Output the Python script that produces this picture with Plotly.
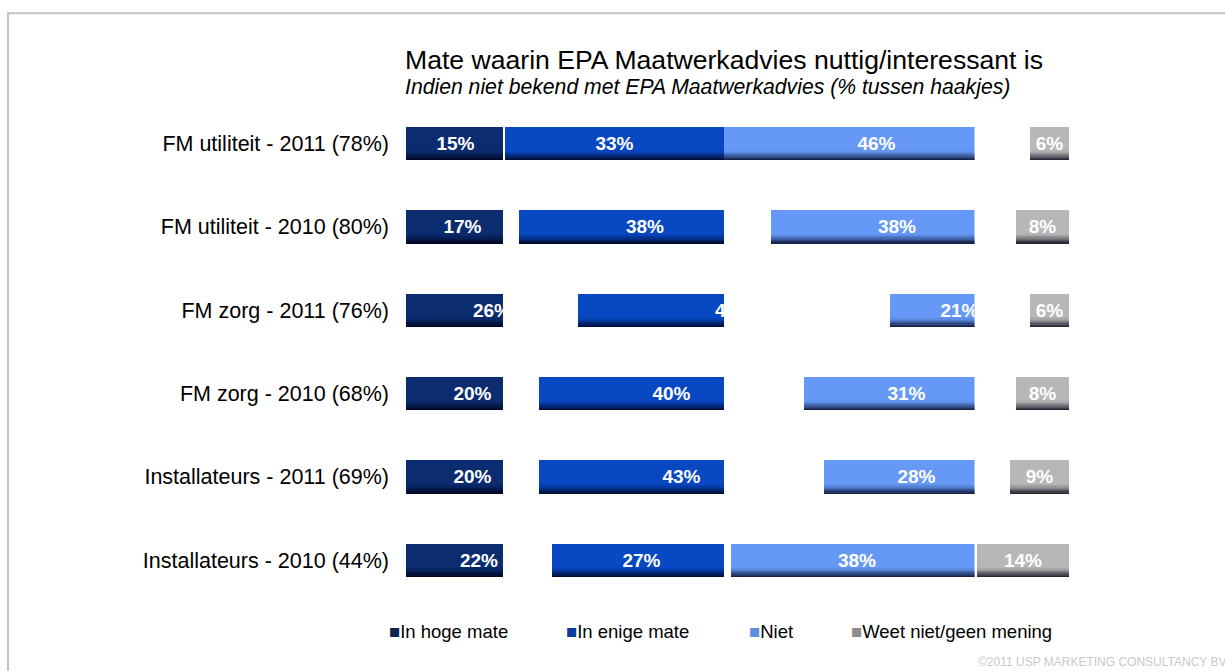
import plotly.graph_objects as go

# ---- data -------------------------------------------------------------
categories = [
    "FM utiliteit - 2011 (78%)",
    "FM utiliteit - 2010 (80%)",
    "FM zorg - 2011 (76%)",
    "FM zorg - 2010 (68%)",
    "Installateurs - 2011 (69%)",
    "Installateurs - 2010 (44%)",
]
in_hoge_mate = [15, 17, 26, 20, 20, 22]
in_enige_mate = [33, 38, 47, 40, 43, 27]
niet = [46, 38, 21, 31, 28, 38]
weet_niet = [6, 8, 6, 8, 9, 14]

series_names = ["In hoge mate", "In enige mate", "Niet", "Weet niet/geen mening"]
series_colors = ["#0b2c6e", "#0848c2", "#6699f7", "#b7b7b7"]
legend_colors = ["#0b2450", "#0a3c9c", "#5c8ee6", "#8c8c8c"]

title_text = "Mate waarin EPA Maatwerkadvies nuttig/interessant is"
subtitle_text = "Indien niet bekend met EPA Maatwerkadvies (% tussen haakjes)"
credit_text = "©2011 USP MARKETING CONSULTANCY BV"

# ---- stacking: first three from the left, the last one from the right end
base_hoge = [0] * len(categories)
base_enige = list(in_hoge_mate)
base_niet = [a + b for a, b in zip(in_hoge_mate, in_enige_mate)]
base_weet = [100 - v for v in weet_niet]

series = [
    (in_hoge_mate, base_hoge),
    (in_enige_mate, base_enige),
    (niet, base_niet),
    (weet_niet, base_weet),
]

# ---- geometry ---------------------------------------------------------
W, H = 1225, 671
FONT = "Liberation Sans, Arial, sans-serif"
X0_PX, X100_PX = 406, 1069           # 0 % and 100 % of the stacked scale
PANEL_EDGES_PX = [406, 503, 724, 974.5, 1069]   # one column window per series
PLOT_TOP_PX, PLOT_BOTTOM_PX = 101.8, 602


def px_to_pct(p):
    return (p - X0_PX) / (X100_PX - X0_PX) * 100


axis_ids = ["x", "x2", "x3", "x4"]
BAR_W = 0.4

fig = go.Figure()

# main bars
for i, ((vals, bases), name, col) in enumerate(zip(series, series_names, series_colors)):
    fig.add_trace(go.Bar(
        y=categories, x=vals, base=bases, orientation="h",
        name=name, marker=dict(color=col, line=dict(width=0)),
        width=BAR_W, xaxis=axis_ids[i], yaxis="y",
        showlegend=False, cliponaxis=True,
        hovertemplate=name + ": %{x}%<extra></extra>",
    ))

# darker gradient along the lower edge of every bar
shade_steps = [(0.08, 0.03), (0.095, 0.06), (0.11, 0.09), (0.125, 0.13),
               (0.14, 0.17), (0.155, 0.22), (0.17, 0.28), (0.185, 0.34)]
for i, (vals, bases) in enumerate(series):
    for off, alpha in shade_steps:
        fig.add_trace(go.Bar(
            y=categories, x=vals, base=bases, orientation="h",
            marker=dict(color=f"rgba(0,0,20,{alpha})", line=dict(width=0)),
            width=0.2 - off, offset=off, xaxis=axis_ids[i], yaxis="y",
            showlegend=False, hoverinfo="skip", cliponaxis=True,
        ))

# value labels, centred on the full segment and clipped by the column window
for i, (vals, bases) in enumerate(series):
    fig.add_trace(go.Bar(
        y=categories, x=vals, base=bases, orientation="h",
        marker=dict(color="rgba(0,0,0,0)", line=dict(width=0)),
        width=BAR_W, xaxis=axis_ids[i], yaxis="y",
        text=[f"{v}%" for v in vals], textposition="inside",
        insidetextanchor="middle", textangle=0, constraintext="none",
        textfont=dict(family=FONT, size=19, color="white", weight="bold"),
        showlegend=False, hoverinfo="skip", cliponaxis=True,
    ))

layout_axes = {}
for i, ax in enumerate(axis_ids):
    key = "xaxis" if ax == "x" else "xaxis" + ax[1:]
    layout_axes[key] = dict(
        domain=[PANEL_EDGES_PX[i] / W, PANEL_EDGES_PX[i + 1] / W],
        range=[px_to_pct(PANEL_EDGES_PX[i]), px_to_pct(PANEL_EDGES_PX[i + 1])],
        anchor="y", visible=False, fixedrange=True,
    )

annotations = [
    dict(text=title_text, x=403 / W, y=1 - 60 / H, xref="paper", yref="paper",
         xanchor="left", yanchor="middle", showarrow=False,
         font=dict(family=FONT, size=26.6, color="#000000")),
    dict(text=f"<i>{subtitle_text}</i>", x=403 / W, y=1 - 87 / H, xref="paper", yref="paper",
         xanchor="left", yanchor="middle", showarrow=False,
         font=dict(family=FONT, size=21.2, color="#000000")),
    dict(text=credit_text, x=1, y=1 - 662 / H, xref="paper", yref="paper",
         xanchor="right", yanchor="middle", showarrow=False, xshift=3,
         font=dict(family=FONT, size=12, color="#c9c9c9")),
]

legend_x_px = [387, 564, 747, 849]
for name, col, lx in zip(series_names, legend_colors, legend_x_px):
    annotations.append(dict(
        text=f"<span style='color:{col}'>■</span>{name}",
        x=lx / W, y=1 - 631 / H, xref="paper", yref="paper",
        xanchor="left", yanchor="middle", showarrow=False,
        font=dict(family=FONT, size=18.5, color="#000000"),
    ))

fig.update_layout(
    width=W, height=H,
    margin=dict(l=0, r=0, t=0, b=0),
    paper_bgcolor="white", plot_bgcolor="rgba(0,0,0,0)",
    barmode="overlay", bargap=0,
    showlegend=False,
    yaxis=dict(
        domain=[1 - PLOT_BOTTOM_PX / H, 1 - PLOT_TOP_PX / H],
        anchor="x", autorange="reversed",
        categoryorder="array", categoryarray=categories,
        showgrid=False, zeroline=False, showline=False,
        ticks="", ticklabelstandoff=16,
        tickfont=dict(family=FONT, size=21.5, color="#000000"),
        fixedrange=True,
    ),
    annotations=annotations,
    shapes=[dict(
        type="rect", xref="paper", yref="paper",
        x0=8 / W, x1=1.02, y0=-0.05, y1=1 - 13.3 / H,
        line=dict(color="#bcc6ca", width=2), fillcolor="rgba(0,0,0,0)",
        layer="below",
    )],
    **layout_axes,
)

fig.write_html("out.html")
